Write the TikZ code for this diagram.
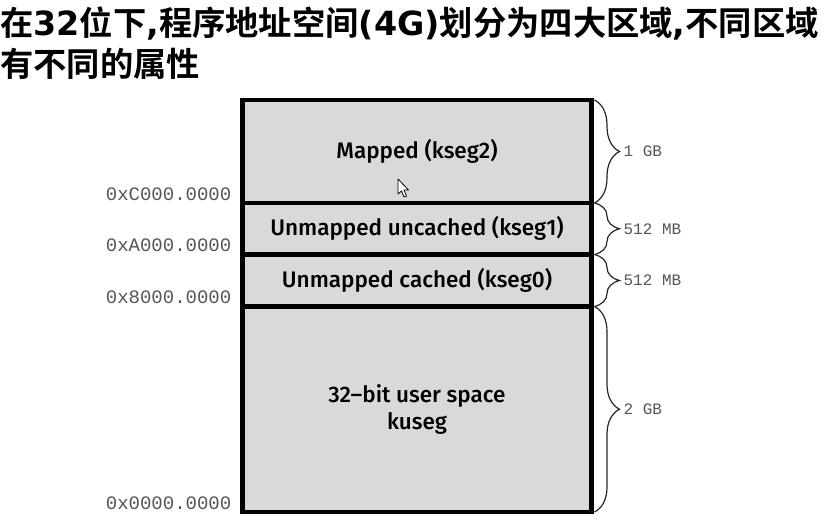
\documentclass[tikz,border=0pt]{standalone}
\usepackage{fontspec}
\setmainfont{Liberation Sans}
\setmonofont{Liberation Mono}
\newfontfamily\cjk{Noto Sans CJK SC}[BoldFont=* Bold]
\newfontfamily\verd{DejaVu Sans}
\newfontfamily\boxfont{Fira Sans}[UprightFont=* Medium]
\usetikzlibrary{positioning,decorations.pathreplacing,calc}
\definecolor{segfill}{HTML}{D9D9D9}
\definecolor{addrgray}{HTML}{555555}
\newcommand\tlat[1]{{\verd\bfseries #1}}

\begin{document}
\begin{tikzpicture}[x=1pt,y=-1pt,
  seg/.style={draw,line width=4.5pt,fill=segfill,inner sep=0pt,outer sep=0pt,
              minimum width=349pt,align=center,
              font=\boxfont\fontsize{22.5}{27}\selectfont},
  addr/.style={anchor=base east,inner sep=0pt,text=addrgray,
               font=\ttfamily\fontsize{19}{19}\selectfont},
  sizelab/.style={anchor=west,inner sep=0pt,xshift=28.5pt,text=addrgray,
                  font=\ttfamily\fontsize{16}{16}\selectfont},
  br/.style={decorate,decoration={brace,amplitude=25pt},line width=1.2pt,draw=black!85},
  ttl/.style={anchor=base west,inner sep=0pt,font=\cjk\bfseries\fontsize{33.3}{33.3}\selectfont}]
  \useasboundingbox (0,0) rectangle (829,519);
  % title
  \node[ttl] (t1) at (0,36) {在\tlat{32}位下\tlat{,}程序地址空间\tlat{(4G)}划分为四大区域\tlat{,}不同区域};
  \node[ttl] (t2) at (0,76) {有不同的属性};
  % address space
  \node[seg,minimum height=103pt,anchor=north west] (kseg2) at (242.5,100) {Mapped (kseg2)};
  \node[seg,minimum height=51.5pt,below=0pt of kseg2] (kseg1) {Unmapped uncached (kseg1)};
  \node[seg,minimum height=52pt,below=0pt of kseg1] (kseg0) {Unmapped cached (kseg0)};
  \node[seg,minimum height=205.5pt,below=0pt of kseg0] (kuseg) {32–bit user space\\kuseg};
  % addresses
  \node[addr] (aC) at ([shift={(-11,-3)}]kseg2.south west) {0xC000.0000};
  \node[addr] (aA) at ([shift={(-11,-3)}]kseg1.south west) {0xA000.0000};
  \node[addr] (a8) at ([shift={(-11,-3)}]kseg0.south west) {0x8000.0000};
  \node[addr] (a0) at ([shift={(-11,-3)}]kuseg.south west) {0x0000.0000};
  % sizes
  \draw[br] ([xshift=3pt]kseg2.north east) -- ([xshift=3pt]kseg2.south east) node[sizelab,midway] (s2) {1 GB};
  \draw[br] ([xshift=3pt]kseg1.north east) -- ([xshift=3pt]kseg1.south east) node[sizelab,midway] (s1) {512 MB};
  \draw[br] ([xshift=3pt]kseg0.north east) -- ([xshift=3pt]kseg0.south east) node[sizelab,midway] (s0) {512 MB};
  \draw[br] ([xshift=3pt]kuseg.north east) -- ([xshift=3pt]kuseg.south east) node[sizelab,midway] (su) {2 GB};
  % mouse pointer
  \draw[fill=white,line width=0.8pt,line join=round]
    (398,179) -- (398,194) -- (401.5,191) -- (404,197) -- (406.5,196) -- (404,190) -- (408.5,190) -- cycle;
\end{tikzpicture}
\end{document}
